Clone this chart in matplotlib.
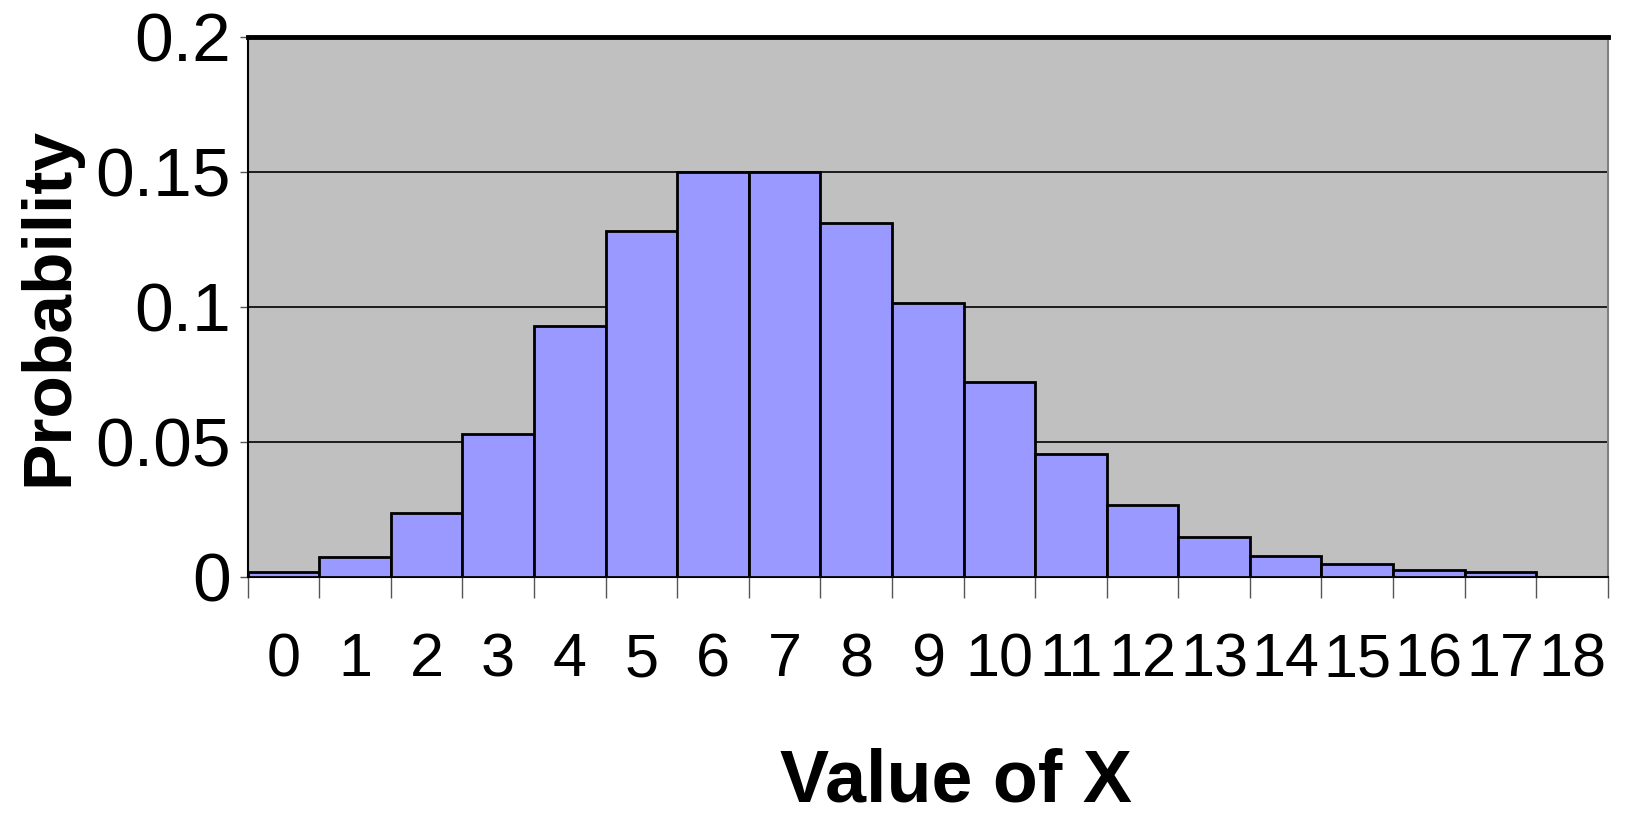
import matplotlib
matplotlib.use("Agg")
import matplotlib.pyplot as plt
import numpy as np

# values of X and their probabilities
x_values = list(range(19))
probabilities = [0.0018, 0.0073, 0.0235, 0.053, 0.0927, 0.128, 0.150, 0.150,
                 0.131, 0.1015, 0.072, 0.0454, 0.0265, 0.0146, 0.0077, 0.0046,
                 0.0023, 0.0019, 0.0]
y_ticks = [0, 0.05, 0.1, 0.15, 0.2]
y_tick_labels = ["0", "0.05", "0.1", "0.15", "0.2"]

fig = plt.figure(figsize=(16.29, 8.18), dpi=100)
ax = fig.add_axes([0.152, 0.295, 0.835, 0.66])
ax.set_facecolor("#C0C0C0")

ax.bar(x_values, probabilities, width=1.0, color="#9999FF",
       edgecolor="black", linewidth=2, zorder=3)

ax.set_xlim(-0.5, 18.5)
ax.set_ylim(0, 0.2)

# horizontal gridlines
ax.set_yticks(y_ticks)
ax.set_yticklabels(y_tick_labels, fontsize=50, family="Liberation Sans")
ax.yaxis.grid(True, color="black", linewidth=1.2, zorder=1)
ax.tick_params(axis="y", length=6, width=1, color="#555555", pad=6)

# labels centered on bars, tick marks at bar edges
ax.set_xticks(x_values)
ax.set_xticklabels([str(v) for v in x_values], fontsize=44,
                   family=["Liberation Sans Narrow", "Liberation Sans"])
ax.tick_params(axis="x", which="major", length=0, pad=40)
ax.set_xticks(np.arange(-0.5, 19, 1.0), minor=True)
ax.tick_params(axis="x", which="minor", length=15, width=1, color="#555555")

for side in ["left", "bottom"]:
    ax.spines[side].set_color("black")
    ax.spines[side].set_linewidth(1.5)
ax.spines["top"].set_color("black")
ax.spines["top"].set_linewidth(3.5)
ax.spines["right"].set_color("#808080")
ax.spines["right"].set_linewidth(1.5)

ax.set_xlabel("Value of X", fontsize=53, fontweight="bold",
              family=["Liberation Sans Narrow", "Liberation Sans"])
ax.xaxis.set_label_coords(0.521, -0.316)
ax.set_ylabel("Probability", fontsize=50, fontweight="bold",
              family="Liberation Sans")
ax.yaxis.set_label_coords(-0.122, 0.5)

fig.savefig("out.png", dpi=100)
